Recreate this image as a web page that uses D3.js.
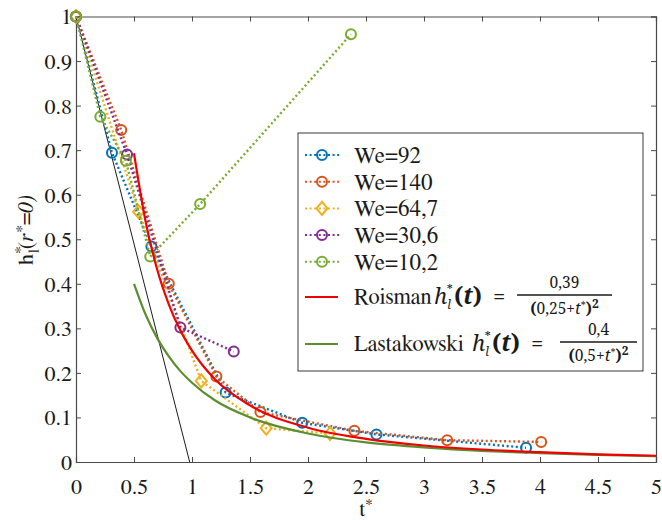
<!DOCTYPE html>
<html><head><meta charset="utf-8">
<script src="https://cdn.jsdelivr.net/npm/d3@7"></script>
</head><body style="margin:0">
<svg id="c" width="662" height="520"></svg>
<script>
// ---- data ----
const xTicks = [0, 0.5, 1, 1.5, 2, 2.5, 3, 3.5, 4, 4.5, 5];
const xTickLabels = ["0", "0.5", "1", "1.5", "2", "2.5", "3", "3.5", "4", "4.5", "5"];
const yTicks = [0, 0.1, 0.2, 0.3, 0.4, 0.5, 0.6, 0.7, 0.8, 0.9, 1];
const yTickLabels = ["0", "0.1", "0.2", "0.3", "0.4", "0.5", "0.6", "0.7", "0.8", "0.9", "1"];

const seriesNames = ["We=92", "We=140", "We=64,7", "We=30,6", "We=10,2"];
const we92_t  = [0, 0.31, 0.65, 1.29, 1.95, 2.59, 3.88];
const we92_h  = [1, 0.694, 0.484, 0.156, 0.088, 0.062, 0.032];
const we140_t = [0, 0.39, 0.80, 1.21, 1.59, 2.40, 3.20, 4.01];
const we140_h = [1, 0.745, 0.40, 0.192, 0.112, 0.070, 0.049, 0.045];
const we647_t = [0, 0.54, 1.08, 1.64, 2.19];
const we647_h = [1, 0.562, 0.182, 0.076, 0.064];
const we306_t = [0, 0.44, 0.90, 1.36];
const we306_h = [1, 0.69, 0.302, 0.248];
const we102_t = [0, 0.21, 0.43, 0.64, 1.07, 2.37];
const we102_h = [1, 0.775, 0.676, 0.461, 0.579, 0.96];

const roisman_t = [0.5, 0.6, 0.7, 0.8, 0.9, 1.0, 1.2, 1.5, 2.0, 2.5, 3.0, 3.5, 4.0, 4.5, 5.0];
const roisman_h = [0.693, 0.540, 0.432, 0.354, 0.295, 0.250, 0.185, 0.127, 0.077, 0.052, 0.037, 0.028, 0.022, 0.017, 0.014];
const lasta_t = [0.5, 0.6, 0.7, 0.8, 0.9, 1.0, 1.2, 1.5, 2.0, 2.5, 3.0, 3.5, 4.0, 4.5, 5.0];
const lasta_h = [0.400, 0.331, 0.278, 0.237, 0.204, 0.178, 0.138, 0.100, 0.064, 0.044, 0.033, 0.025, 0.020, 0.016, 0.013];
const tangent_t = [0, 0.98];
const tangent_h = [1, 0];

// ---- layout / style ----
const svg = d3.select("#c");
const L = 76, R = 656, T = 16.5, B = 462;
const x = d3.scaleLinear().domain([0, 5]).range([L, R]);
const y = d3.scaleLinear().domain([0, 1]).range([B, T]);
const axisCol = "#4a4a4a";
const ink = "#1a1a1a";
const SERIF = "FreeSerif";
const MATH = "Noto Serif";

const series = [
  {name: seriesNames[0], t: we92_t,  h: we92_h,  color: "#0072BD", marker: "circle"},
  {name: seriesNames[1], t: we140_t, h: we140_h, color: "#D95319", marker: "circle"},
  {name: seriesNames[2], t: we647_t, h: we647_h, color: "#EDB120", marker: "diamond"},
  {name: seriesNames[3], t: we306_t, h: we306_h, color: "#7E2F8E", marker: "circle"},
  {name: seriesNames[4], t: we102_t, h: we102_h, color: "#77AC30", marker: "circle"}
];
const zip = (a, b) => a.map((v, i) => [v, b[i]]);

// axes
const gx = svg.append("g").attr("transform", `translate(0,${B})`)
  .call(d3.axisBottom(x).tickValues(xTicks).tickFormat((d, i) => xTickLabels[i]).tickSize(-5).tickPadding(0));
const gy = svg.append("g").attr("transform", `translate(${L},0)`)
  .call(d3.axisLeft(y).tickValues(yTicks).tickFormat((d, i) => yTickLabels[i]).tickSize(-5).tickPadding(4));
const gt = svg.append("g").attr("transform", `translate(0,${T})`)
  .call(d3.axisTop(x).tickValues(xTicks).tickFormat("").tickSize(-5));
const gr = svg.append("g").attr("transform", `translate(${R},0)`)
  .call(d3.axisRight(y).tickValues(yTicks).tickFormat("").tickSize(-5));
[gx, gy, gt, gr].forEach(g => {
  g.attr("font-family", null).attr("font-size", null);
  g.selectAll("path.domain").attr("stroke", axisCol).attr("stroke-width", 1.2);
  g.selectAll(".tick line").attr("stroke", axisCol).attr("stroke-width", 1);
  g.selectAll("text").style("font-family", SERIF).attr("font-size", 22).attr("fill", ink);
});
gx.selectAll(".tick text").attr("y", 32).attr("dy", 0);
gy.selectAll(".tick text").attr("dy", "0.34em");

function stext(sel) { return sel.append("text").style("font-family", SERIF); }

// axis labels
stext(svg).attr("x", 366).attr("y", 516).attr("text-anchor", "middle")
  .attr("font-size", 21).attr("fill", ink)
  .html('t<tspan dy="-7" font-size="15">*</tspan>');
stext(svg).attr("transform", "translate(33,230) rotate(-90)")
  .attr("text-anchor", "middle").attr("font-size", 22).attr("fill", ink)
  .html('h<tspan dy="-8" font-size="16">*</tspan><tspan dx="-7" dy="14" font-size="15">l</tspan><tspan dy="-6">(</tspan><tspan font-style="italic">r</tspan><tspan dy="-7" font-size="16" font-style="italic">*</tspan><tspan dy="7" font-style="italic">=0)</tspan>');

// tangent line
const line = d3.line().x(d => x(d[0])).y(d => y(d[1]));
svg.append("path").datum(zip(tangent_t, tangent_h)).attr("d", line)
  .attr("fill", "none").attr("stroke", "#000").attr("stroke-width", 0.9);

// marker helper
function drawMarker(g, type, cx, cy, color) {
  if (type === "diamond") {
    g.append("path").attr("d", `M${cx},${cy-6.5}L${cx+5.5},${cy}L${cx},${cy+6.5}L${cx-5.5},${cy}Z`)
      .attr("fill", "none").attr("stroke", color).attr("stroke-width", 2);
  } else {
    g.append("circle").attr("cx", cx).attr("cy", cy).attr("r", 5)
      .attr("fill", "none").attr("stroke", color).attr("stroke-width", 2);
  }
}

// data series
series.forEach(s => {
  const g = svg.append("g");
  g.append("path").datum(zip(s.t, s.h)).attr("d", line)
    .attr("fill", "none").attr("stroke", s.color).attr("stroke-width", 2.4)
    .attr("stroke-dasharray", "2,2.6");
  zip(s.t, s.h).forEach(p => drawMarker(g, s.marker, x(p[0]), y(p[1]), s.color));
});

// model curves
const cline = d3.line().curve(d3.curveMonotoneX).x(d => x(d[0])).y(d => y(d[1]));
svg.append("path").datum(zip(lasta_t, lasta_h)).attr("d", cline)
  .attr("fill", "none").attr("stroke", "#5B8E2F").attr("stroke-width", 2.2);
svg.append("path").datum(zip(roisman_t, roisman_h)).attr("d", cline)
  .attr("fill", "none").attr("stroke", "#F00000").attr("stroke-width", 2.2);

// legend
const lg = svg.append("g");
lg.append("rect").attr("x", 298).attr("y", 133).attr("width", 345).attr("height", 238)
  .attr("fill", "#fff").attr("stroke", "#3a3a3a").attr("stroke-width", 1);
series.forEach((s, i) => {
  const ly = 155 + i * 26.7;
  lg.append("line").attr("x1", 305).attr("x2", 341).attr("y1", ly).attr("y2", ly)
    .attr("stroke", s.color).attr("stroke-width", 2).attr("stroke-dasharray", "2,2.6");
  drawMarker(lg, s.marker, 322, ly, s.color);
  stext(lg).attr("x", 354).attr("y", ly + 8)
    .attr("font-size", 23).attr("fill", ink).text(s.name);
});
function mtext(sel) { return sel.append("text").style("font-family", MATH); }
function modelEntry(ly, color, label, hx, numText, denText, barX1, barX2) {
  lg.append("line").attr("x1", 305).attr("x2", 338).attr("y1", ly).attr("y2", ly)
    .attr("stroke", color).attr("stroke-width", 2);
  const base = ly + 7;
  stext(lg).attr("x", 354).attr("y", base).attr("font-size", 22.5).attr("fill", ink).text(label);
  mtext(lg).attr("x", hx).attr("y", base).attr("font-size", 22).attr("fill", ink)
    .html('<tspan font-style="italic">h</tspan><tspan font-style="italic" font-size="12" dy="5">l</tspan><tspan font-size="12" dx="-4" dy="-15">*</tspan>');
  mtext(lg).attr("x", hx + 20).attr("y", base).attr("font-weight", "bold")
    .attr("font-size", 23).attr("fill", ink).html('(<tspan font-style="italic">t</tspan>)');
  mtext(lg).attr("x", hx + 59).attr("y", base)
    .attr("font-size", 22).attr("fill", ink).text("=");
  const cx = (barX1 + barX2) / 2;
  lg.append("line").attr("x1", barX1).attr("x2", barX2).attr("y1", ly - 2).attr("y2", ly - 2)
    .attr("stroke", ink).attr("stroke-width", 1.6);
  mtext(lg).attr("x", cx).attr("y", ly - 9).attr("text-anchor", "middle")
    .attr("font-size", 15.5).attr("fill", ink).text(numText);
  mtext(lg).attr("x", cx).attr("y", ly + 17).attr("text-anchor", "middle")
    .attr("font-size", 15.5).attr("fill", ink).html(denText);
}
const den = (a) => '<tspan font-weight="bold">(</tspan>' + a + '+<tspan font-style="italic">t</tspan><tspan dy="-5" font-size="10">*</tspan><tspan dy="5" font-weight="bold">)</tspan><tspan dy="-6" font-size="12" font-weight="bold">2</tspan>';
modelEntry(297, "#F00000", "Roisman", 434, "0,39", den("0,25"), 517, 612);
modelEntry(344, "#5B8E2F", "Lastakowski", 472, "0,4", den("0,5"), 560, 637);
</script>
</body></html>
